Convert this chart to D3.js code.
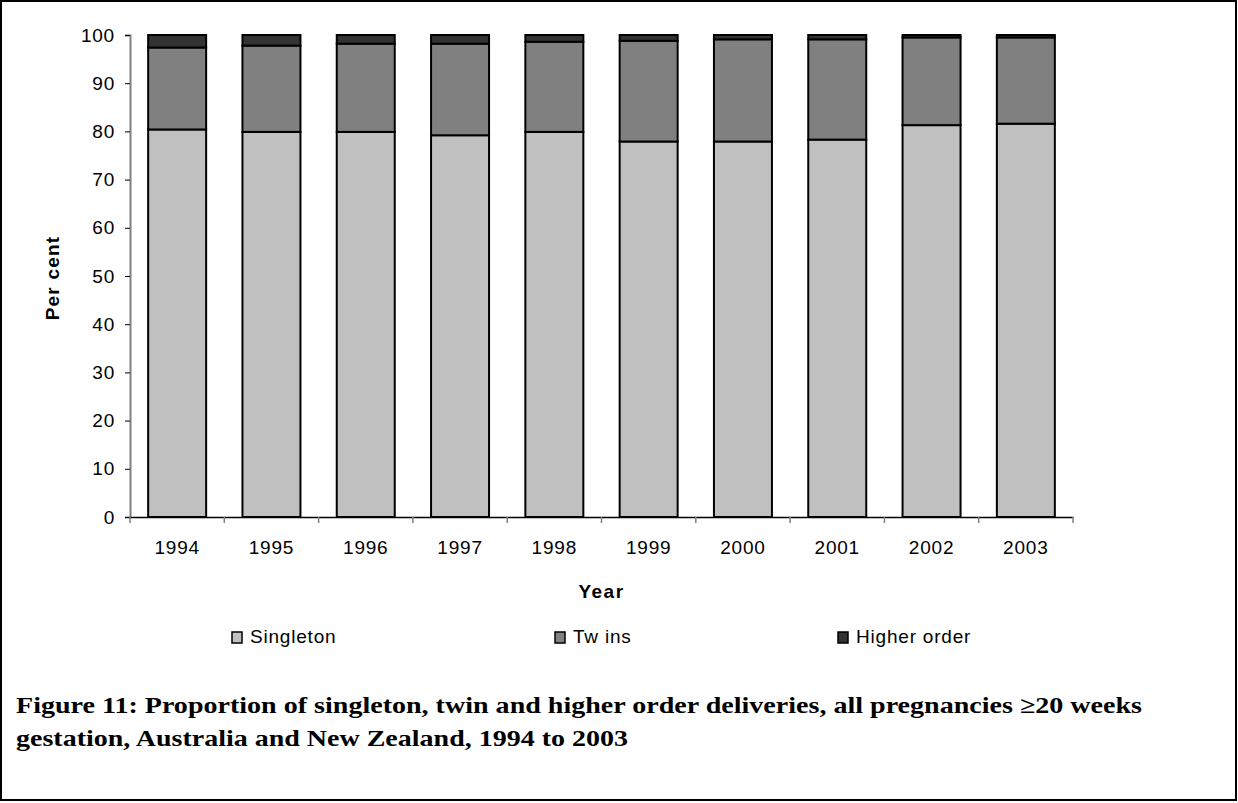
<!DOCTYPE html>
<html>
<head>
<meta charset="utf-8">
<script src="https://cdn.jsdelivr.net/npm/d3@7"></script>
<style>
  body { margin: 0; background: #fff; }
  svg text { font-family: "Liberation Sans", Arial, sans-serif; }
</style>
</head>
<body>
<div id="chart"></div>
<script>
    "use strict";

    // Years along the x axis.
    var years = ["1994", "1995", "1996", "1997", "1998", "1999", "2000", "2001", "2002", "2003"];
    // Per cent of deliveries.
    var singleton = [80.4, 79.9, 79.9, 79.2, 79.9, 77.9, 77.9, 78.3, 81.3, 81.6];
    var twins = [17.0, 17.9, 18.3, 19.0, 18.7, 20.9, 21.2, 20.8, 18.2, 17.9];
    var higherOrder = [2.6, 2.2, 1.8, 1.8, 1.4, 1.2, 0.9, 0.9, 0.5, 0.5];
    var seriesNames = ["Singleton", "Tw ins", "Higher order"];
    var seriesColors = ["#c0c0c0", "#808080", "#333333"];
    var yTicks = [0, 10, 20, 30, 40, 50, 60, 70, 80, 90, 100];

    var width = 1238, height = 803;
    var margin = {top: 35, left: 130, bottom: 286, right: 165};
    var labelFont = "'Liberation Sans', Arial, sans-serif";

    var svg = d3.select("#chart").append("svg")
        .attr("width", width)
        .attr("height", height);

    // Outer frame.
    svg.append("rect")
        .attr("x", 1).attr("y", 1)
        .attr("width", width - 3).attr("height", height - 4)
        .attr("fill", "none")
        .attr("stroke", "black")
        .attr("stroke-width", 2);

    // Build a table the stack layout can use.
    var table = years.map(function (y, i) {
        return {year: y, s0: singleton[i], s1: twins[i], s2: higherOrder[i]};
    });
    var stack = d3.stack().keys(["s0", "s1", "s2"]);
    var layers = stack(table);

    var x = d3.scaleBand()
        .domain(years)
        .range([margin.left, width - margin.right])
        .paddingInner(0.385)
        .paddingOuter(0.1925);

    var y = d3.scaleLinear()
        .domain([0, 100])
        .range([height - margin.bottom, margin.top]);

    // Y axis.
    var yAxis = svg.append("g")
        .attr("transform", "translate(" + margin.left + ",0)")
        .call(d3.axisLeft(y).tickValues(yTicks).tickSize(5).tickPadding(10));
    yAxis.select(".domain").attr("stroke", "#808080").attr("stroke-width", 2);
    yAxis.selectAll(".tick line").attr("stroke", "black");
    yAxis.selectAll("text").attr("font-size", 19).attr("fill", "black")
        .attr("letter-spacing", 0.8)
        .style("font-family", labelFont);

    // Bars.
    var layer = svg.append("g").selectAll("g")
        .data(layers)
        .enter().append("g")
        .attr("fill", function (d, i) { return seriesColors[i]; });

    layer.selectAll("rect")
        .data(function (d) { return d; })
        .enter().append("rect")
        .attr("x", function (d) { return x(d.data.year); })
        .attr("y", function (d) { return y(d[1]); })
        .attr("width", x.bandwidth())
        .attr("height", function (d) { return y(d[0]) - y(d[1]); })
        .attr("stroke", "black")
        .attr("stroke-width", 2);

    // X axis.
    var xAxis = svg.append("g")
        .attr("transform", "translate(0," + y(0) + ")")
        .call(d3.axisBottom(x).tickSize(0).tickPadding(24));
    xAxis.select(".domain").attr("stroke", "black").attr("stroke-width", 1.5);
    xAxis.selectAll("text").attr("font-size", 19).attr("fill", "black")
        .attr("letter-spacing", 0.8)
        .style("font-family", labelFont);

    // Category separators below the x axis.
    var step = x.step();
    var sepPos = d3.range(years.length + 1).map(function (i) { return margin.left + i * step; });
    svg.append("g").selectAll("line")
        .data(sepPos)
        .enter().append("line")
        .attr("x1", function (d) { return d; })
        .attr("x2", function (d) { return d; })
        .attr("y1", y(0))
        .attr("y2", y(0) + 6)
        .attr("stroke", "#808080")
        .attr("stroke-width", 1.5);

    // Axis titles.
    svg.append("text")
        .attr("x", (margin.left + width - margin.right) / 2)
        .attr("y", 598)
        .attr("text-anchor", "middle")
        .attr("font-size", 19)
        .attr("letter-spacing", 1.5)
        .attr("font-weight", "bold")
        .text("Year");

    svg.append("text")
        .attr("transform", "translate(59," + (y(50) + 2) + ") rotate(-90)")
        .attr("text-anchor", "middle")
        .attr("font-size", 19)
        .attr("letter-spacing", 1.2)
        .attr("font-weight", "bold")
        .text("Per cent");

    // Legend.
    var legendX = [232, 555, 838];
    var legend = svg.append("g").selectAll("g")
        .data(seriesNames)
        .enter().append("g")
        .attr("transform", function (d, i) { return "translate(" + legendX[i] + ",632)"; });
    legend.append("rect")
        .attr("width", 10).attr("height", 11)
        .attr("fill", function (d, i) { return seriesColors[i]; })
        .attr("stroke", "black")
        .attr("stroke-width", 1.5);
    legend.append("text")
        .attr("x", 18).attr("y", 11)
        .attr("font-size", 19)
        .attr("letter-spacing", 0.8)
        .text(function (d) { return d; });

    // Caption.
    var caption = svg.append("text")
        .attr("font-size", 23)
        .attr("font-weight", "bold")
        .style("font-family", "'Liberation Serif', 'DejaVu Serif', serif");
    caption.append("tspan")
        .attr("x", 16).attr("y", 713)
        .attr("textLength", 1126)
        .attr("lengthAdjust", "spacingAndGlyphs")
        .text("Figure 11: Proportion of singleton, twin and higher order deliveries, all pregnancies \u226520 weeks");
    caption.append("tspan")
        .attr("x", 16).attr("y", 746)
        .attr("textLength", 612)
        .attr("lengthAdjust", "spacingAndGlyphs")
        .text("gestation, Australia and New Zealand, 1994 to 2003");
</script>
</body>
</html>
